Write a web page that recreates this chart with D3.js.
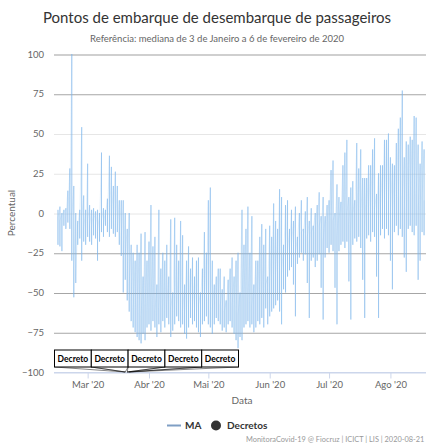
<!DOCTYPE html>
<html><head><meta charset="utf-8">
<script src="https://cdn.jsdelivr.net/npm/d3@7"></script>
<style>html,body{margin:0;padding:0;background:#fff;overflow:hidden}svg{display:block}</style>
</head><body>
<script>
// ---------- DATA ----------
const startDate = "2020-02-15";
// daily maximum across points (upper end of each vertical stroke)
const hiValues = [
  2, 4, 0, 2, 3, 14, 28, 100, 17, 0,
  -5, 2, 54, 11, 2, 31, 5, 2, 3, 1,
  2, 0, 38, 3, 2, 9, 36, 29, 17, 26,
  17, 8, 8, 8, 0, -10, 0, -20, -25, -30,
  -20, -25, -13, -40, -12, -30, -18, 5, -21, -15,
  -45, 2, -35, -25, -30, -20, -40, -4, -50, -3,
  -20, -30, -5, -14, -45, -30, -21, -35, -28, -40,
  -30, -28, -50, -35, -12, -25, 8, 16, -30, -45,
  -40, -35, -35, -48, -40, -55, -42, -35, -28, -40,
  -30, -25, -50, 2, -20, -10, 4, -25, -2, -45,
  -30, -30, -15, -7, -20, -10, -40, -8, -15, 6,
  -5, -10, 15, 10, -20, 5, 8, -10, 2, -5,
  4, -15, 0, 8, -10, 1, 10, -5, 3, -8,
  0, 5, 13, -2, 10, -2, 5, 8, 27, 33,
  0, 18, 10, 7, 30, 38, 46, 10, 16, 20,
  8, 44, 28, 40, 22, 22, 22, 30, 30, 40,
  47, 12, 25, 30, 30, 46, 46, 50, 35, 31,
  30, 44, 53, 60, 77, 35, 45, 43, 48, 46,
  61, 60, 43, 31, 45, 40
];
// daily minimum (lower end of each vertical stroke)
const loValues = [
  -20, -21, -24, -8, -10, -6, -10, -30, -53, -44,
  -20, -16, -30, -18, -20, -15, -18, -20, -14, -16,
  -30, -18, -12, -15, -8, -12, -15, -10, -13, -15,
  -12, -20, -27, -50, -42, -55, -62, -68, -72, -75,
  -78, -80, -82, -76, -80, -72, -70, -74, -68, -72,
  -78, -70, -75, -68, -72, -66, -70, -78, -74, -70,
  -65, -68, -72, -70, -76, -79, -72, -66, -70, -68,
  -72, -75, -78, -70, -68, -65, -70, -72, -76, -70,
  -66, -68, -70, -74, -72, -75, -70, -68, -72, -76,
  -80, -85, -78, -80, -72, -70, -68, -72, -70, -75,
  -72, -68, -70, -66, -72, -60, -70, -65, -62, -60,
  -58, -55, -62, -70, -48, -50, -40, -36, -34, -45,
  -65, -32, -28, -25, -30, -26, -44, -66, -30, -28,
  -34, -30, -26, -47, -67, -28, -22, -25, -20, -24,
  -47, -70, -24, -20, -18, -22, -18, -43, -67, -20,
  -16, -18, -15, -22, -42, -66, -16, -14, -18, -12,
  -15, -40, -66, -14, -10, -16, -10, -14, -30, -48,
  -12, -8, -14, -10, -15, -28, -37, -10, -8, -12,
  -14, -8, -42, -30, -12, -14
];
// daily central value (where consecutive days connect)
const midValues = [
  -3, -5, -2, 0, -3, -1, 2, -2, -35, -40,
  -8, -5, -3, -10, -12, -5, -8, -10, -5, -8,
  -12, -10, -5, -8, -2, -5, -8, -3, -5, -7,
  -10, -12, -15, -30, -25, -40, -45, -55, -60, -62,
  -60, -63, -65, -60, -58, -62, -60, -55, -58, -62,
  -64, -60, -58, -60, -62, -58, -56, -60, -62, -58,
  -60, -55, -58, -62, -64, -60, -58, -56, -60, -62,
  -64, -58, -56, -55, -52, -55, -58, -62, -60, -58,
  -56, -54, -58, -60, -62, -58, -56, -55, -58, -60,
  -62, -64, -58, -55, -52, -50, -54, -56, -58, -55,
  -52, -50, -48, -52, -50, -45, -48, -45, -42, -40,
  -38, -36, -35, -38, -30, -28, -25, -22, -20, -22,
  -25, -18, -15, -12, -14, -12, -15, -20, -12, -10,
  -12, -10, -8, -12, -18, -8, -6, -5, -3, -5,
  -10, -15, -4, -2, 0, -2, 0, -8, -12, 0,
  2, 0, 2, 0, -5, -10, 2, 4, 2, 5,
  3, -5, -10, 4, 6, 5, 8, 6, 0, -5,
  6, 8, 10, 8, 10, 2, 0, 8, 10, 12,
  10, 12, 0, 2, 10, 8
];
const decretoDates = ["2020-03-20", "2020-03-20", "2020-03-21", "2020-03-21", "2020-03-22"];
const decretoLabels = ["Decreto", "Decreto", "Decreto", "Decreto", "Decreto"];
const yTicks = [100, 75, 50, 25, 0, -25, -50, -75, -100];
const monthTicks = ["2020-03-01", "2020-04-01", "2020-05-01", "2020-06-01", "2020-07-01", "2020-08-01"];
const monthLabels = ["Mar '20", "Abr '20", "Mai '20", "Jun '20", "Jul '20", "Ago '20"];
const titleText = "Pontos de embarque de desembarque de passageiros";
const subtitleText = "Referência: mediana de 3 de Janeiro a 6 de fevereiro de 2020";
const creditsText = "MonitoraCovid-19 @ Fiocruz | ICICT | LIS | 2020-08-21";

// ---------- LAYOUT ----------
const W = 426, H = 444, chartW = 440;
const FONT = "Lato, 'DejaVu Sans', sans-serif";
const plot = {left: 54, right: 430, top: 54, bottom: 372};
const parse = d3.utcParse("%Y-%m-%d");
const t0 = parse(startDate);
const dates = hiValues.map((_, i) => d3.utcDay.offset(t0, i));

const x = d3.scaleUtc()
  .domain([d3.utcDay.offset(t0, -2), d3.utcDay.offset(t0, hiValues.length + 2)])
  .range([plot.left, plot.right]);
const y = d3.scaleLinear().domain([-100, 100]).range([plot.bottom, plot.top]);

const svg = d3.select("body").append("svg")
  .attr("width", W).attr("height", H)
  .style("font-family", FONT);

svg.append("defs").append("clipPath").attr("id", "clip")
  .append("rect").attr("x", plot.left).attr("y", plot.top - 2)
  .attr("width", plot.right - plot.left).attr("height", plot.bottom - plot.top + 2);

// title & subtitle
svg.append("text").attr("x", chartW / 2 - 3).attr("y", 23).attr("text-anchor", "middle")
  .attr("fill", "#333").style("font-size", "15px").text(titleText);
svg.append("text").attr("x", chartW / 2 - 3).attr("y", 42).attr("text-anchor", "middle")
  .attr("fill", "#666").style("font-size", "9.5px").text(subtitleText);

// gridlines
function gridStyle(v) {
  if (v === 100) return {c: "#cfcfcf", w: 2};
  if (v === 75 || v === -25 || v === -50 || v === -75) return {c: "#a6a6a6", w: 1};
  if (v === -100) return {c: "#ccd6eb", w: 1};
  return {c: "#e6e6e6", w: 1};
}
const yAxis = d3.axisLeft(y).tickValues(yTicks).tickSize(0).tickPadding(10)
  .tickFormat(d => d < 0 ? "\u2212" + Math.abs(d) : d);
const gy = svg.append("g").attr("transform", `translate(${plot.left},0)`).call(yAxis);
gy.select(".domain").remove();
gy.selectAll("text").attr("fill", "#666").style("font-size", "9.5px").style("font-family", FONT);
gy.selectAll(".tick").append("line")
  .attr("x1", 0).attr("x2", plot.right - plot.left)
  .attr("stroke", d => gridStyle(d).c).attr("stroke-width", d => gridStyle(d).w)
  .attr("transform", "translate(0,0.5)");

// x axis
const xAxis = d3.axisBottom(x).tickValues(monthTicks.map(parse)).tickSize(6).tickPadding(3)
  .tickFormat((d, i) => monthLabels[i]);
const gx = svg.append("g").attr("transform", `translate(0,${plot.bottom + 0.5})`).call(xAxis);
gx.select(".domain").attr("stroke", "#ccd6eb").attr("d", `M${plot.left},0H${plot.right}`);
gx.selectAll(".tick line").attr("stroke", "#ccd6eb");
gx.selectAll("text").attr("fill", "#666").style("font-size", "9.5px").style("font-family", FONT);

// axis titles
svg.append("text").attr("x", (plot.left + plot.right) / 2).attr("y", 404).attr("text-anchor", "middle")
  .attr("fill", "#666").style("font-size", "10px").text("Data");
svg.append("text").attr("transform", `translate(15,${(plot.top + plot.bottom) / 2}) rotate(-90)`)
  .attr("text-anchor", "middle").attr("fill", "#666").style("font-size", "10px").text("Percentual");

// series MA: one vertical stroke per day (hi..lo) + a thin connector through daily centre values
const gs = svg.append("g").attr("clip-path", "url(#clip)");
gs.selectAll("line.day").data(dates).join("line").attr("class", "day")
  .attr("x1", d => x(d)).attr("x2", d => x(d))
  .attr("y1", (d, i) => y(hiValues[i])).attr("y2", (d, i) => y(loValues[i]))
  .attr("stroke", "#7cb5ec").attr("stroke-width", 1).attr("stroke-opacity", 0.62);
const pts = [];
dates.forEach((d, i) => {
  pts.push([d, hiValues[i]]);
  pts.push([d, loValues[i]]);
  pts.push([d, midValues[i]]);
});
gs.append("path").datum(pts)
  .attr("d", d3.line().x(p => x(p[0])).y(p => y(p[1])))
  .attr("fill", "none").attr("stroke", "#7cb5ec").attr("stroke-width", 0.6).attr("stroke-opacity", 0.35);

// flags (Decretos)
const boxW = 36.8, boxH = 17, boxBottom = plot.bottom - 5;
const anchors = decretoDates.map(d => x(parse(d)));
const total = boxW * anchors.length;
let start = Math.max(plot.left, d3.mean(anchors) - total / 2);
const gf = svg.append("g");
anchors.forEach((ax, i) => {
  const bx = start + i * boxW + 0.5;
  gf.append("path")
    .attr("d", `M${bx},${boxBottom}L${ax},${plot.bottom}L${bx + boxW},${boxBottom}`)
    .attr("fill", "none").attr("stroke", "#000").attr("stroke-width", 0.6).attr("stroke-opacity", 0.8);
});
anchors.forEach((ax, i) => {
  const bx = start + i * boxW + 0.5;
  gf.append("rect").attr("x", bx).attr("y", boxBottom - boxH).attr("width", boxW).attr("height", boxH)
    .attr("fill", "#fff").attr("stroke", "#000").attr("stroke-width", 1);
  gf.append("text").attr("x", bx + boxW / 2).attr("y", boxBottom - 5.5).attr("text-anchor", "middle")
    .style("font-size", "8.5px").style("font-weight", "bold").attr("fill", "#000").text(decretoLabels[i]);
});

// legend
const lg = svg.append("g").attr("transform", "translate(0,425)");
lg.append("line").attr("x1", 167).attr("x2", 181).attr("y1", 0.5).attr("y2", 0.5)
  .attr("stroke", "#7f9fc4").attr("stroke-width", 2);
lg.append("text").attr("x", 185).attr("y", 4).style("font-size", "10px").style("font-weight", "bold")
  .attr("fill", "#333").text("MA");
lg.append("circle").attr("cx", 216).attr("cy", 0.5).attr("r", 5).attr("fill", "#333");
lg.append("text").attr("x", 227).attr("y", 4).style("font-size", "10px").style("font-weight", "bold")
  .attr("fill", "#333").text("Decretos");

// credits
svg.append("text").attr("x", 246).attr("y", 442).style("font-size", "7.4px")
  .attr("fill", "#999").text(creditsText);
</script>
</body></html>
